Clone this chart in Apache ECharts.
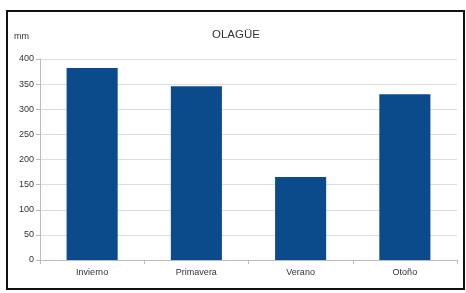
<!DOCTYPE html>
<html>
<head>
<meta charset="utf-8">
<script src="https://cdn.jsdelivr.net/npm/echarts@6/dist/echarts.min.js"></script>
<style>
  html, body { margin: 0; padding: 0; background: #fff; }
  #main { width: 466px; height: 293px; }
</style>
</head>
<body>
<div id="main"></div>
<script>
// datos de precipitación por estación
var categories = ['Invierno', 'Primavera', 'Verano', 'Otoño'];
var values = [382, 346, 165, 330];
var yTicks = [0, 50, 100, 150, 200, 250, 300, 350, 400];

var chart = echarts.init(document.getElementById('main'));

var option = {
	backgroundColor : '#ffffff',
	animation : false,
	title : {
		text : 'OLAGÜE',
		left : 207,
		top : 24,
		textStyle : {
			fontFamily : 'Liberation Sans',
			fontSize : 11.5,
			fontWeight : 'normal',
			color : '#333'
		}
	},
	graphic : [ {
		type : 'rect',
		shape : { x : 7, y : 11, width : 457, height : 278 },
		style : { fill : 'none', stroke : '#111', lineWidth : 2 }
	}, {
		type : 'text',
		left : 14,
		top : 32,
		style : {
			text : 'mm',
			fontFamily : 'Liberation Sans',
			fontSize : 9,
			fill : '#333'
		}
	} ],
	grid : {
		left : 40,
		right : 9,
		top : 59,
		bottom : 33
	},
	xAxis : {
		type : 'category',
		data : categories,
		axisLine : { lineStyle : { color : '#bbb' } },
		axisTick : { show : true, length : 4, lineStyle : { color : '#bbb' } },
		axisLabel : {
			fontFamily : 'Liberation Sans',
			fontSize : 9,
			color : '#333',
			margin : 8
		}
	},
	yAxis : {
		type : 'value',
		min : yTicks[0],
		max : yTicks[yTicks.length - 1],
		interval : 50,
		axisLine : { show : true, lineStyle : { color : '#bbb' } },
		axisTick : { show : true, length : 4, lineStyle : { color : '#bbb' } },
		axisLabel : {
			fontFamily : 'Liberation Sans',
			fontSize : 9,
			color : '#333',
			margin : 6
		},
		splitLine : { lineStyle : { color : '#ddd' } }
	},
	series : [ {
		type : 'bar',
		data : values,
		barWidth : '49%',
		itemStyle : { color : '#0b4a8b' }
	} ]
};

chart.setOption(option);
</script>
</body>
</html>
